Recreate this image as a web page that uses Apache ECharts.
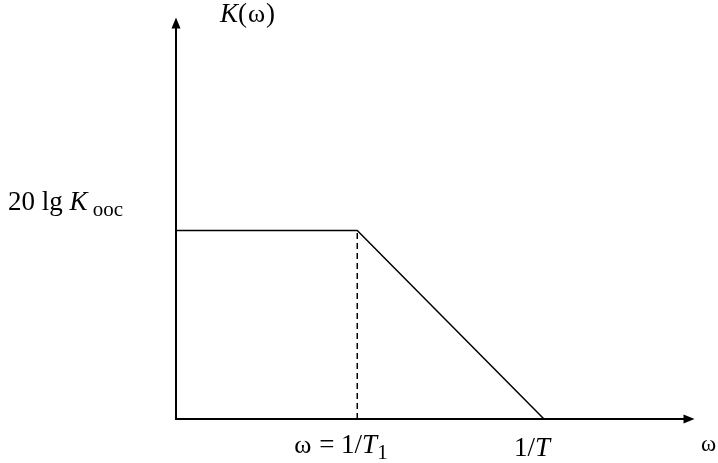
<!DOCTYPE html>
<html>
<head>
<meta charset="utf-8">
<script src="https://cdn.jsdelivr.net/npm/echarts@6/dist/echarts.min.js"></script>
<style>
  html, body { margin: 0; padding: 0; background: #fff; }
  #main { width: 718px; height: 463px; }
</style>
</head>
<body>
<div id="main"></div>
<script>
// Asymptotic amplitude response: flat at 20 lg K_ooc up to ω = 1/T1,
// then a straight fall that reaches the ω axis at 1/T.
const omegaBreaks = [0, 1, 2.03];   // ω: origin, 1/T1, 1/T (in units of 1/T1)
const gainLevels  = [1, 1, 0];      // K(ω) in units of 20 lg K_ooc
const guideOmega  = [1, 1];         // dashed drop from the corner to the ω axis
const guideGain   = [0, 1];
const omegaMax = 2.83;
const gainMax  = 2.1;

// Texts
const yAxisTitle = ['K', '(', 'ω', ')'];
const xAxisTitle = 'ω';
const levelLabel = ['20 lg ', 'K', 'ooc'];
const cornerLabel = ['ω', ' = 1/', 'T', '1'];
const endLabel = ['1/', 'T'];

const FONT = '"Liberation Serif", "Times New Roman", serif';
const chart = echarts.init(document.getElementById('main'), null, { renderer: 'canvas' });

const axisCommon = {
  type: 'value',
  min: 0,
  axisLine: {
    show: true,
    symbol: ['none', 'triangle'],
    symbolSize: [9, 11],
    lineStyle: { color: '#000', width: 2 }
  },
  axisTick: { show: false },
  axisLabel: { show: false },
  splitLine: { show: false }
};

chart.setOption({
  backgroundColor: '#fff',
  animation: false,
  grid: { left: 176, right: 29, top: 23, bottom: 44 },
  xAxis: Object.assign({}, axisCommon, { max: omegaMax }),
  yAxis: Object.assign({}, axisCommon, { max: gainMax }),
  series: [
    {
      type: 'line',
      data: omegaBreaks.map((w, i) => [w, gainLevels[i]]),
      symbol: 'none',
      lineStyle: { color: '#000', width: 1.5 },
      z: 3
    },
    {
      type: 'line',
      data: guideOmega.map((w, i) => [w, guideGain[i]]),
      symbol: 'none',
      lineStyle: { color: '#000', width: 1.5, type: [6, 4] },
      z: 2
    }
  ]
});

// Rich text styles: upright, italic, Greek and subscript pieces
const base = { fontFamily: FONT, color: '#000', verticalAlign: 'bottom' };
const rich = {
  n: Object.assign({}, base, { fontSize: 27, padding: [0, 0, 5, 0] }),
  i: Object.assign({}, base, { fontSize: 27, fontStyle: 'italic', padding: [0, 0, 5, 0] }),
  g: Object.assign({}, base, { fontSize: 26, padding: [0, 1, 5, 1] }),
  a: Object.assign({}, base, { fontSize: 23, padding: [0, 0, 5, 0] }),
  s: Object.assign({}, base, { fontSize: 21, padding: [0, 0, 0, 0] })
};

function px(w, g) { return chart.convertToPixel({ gridIndex: 0 }, [w, g]); }
function label(text, x, y, align) {
  return {
    type: 'text',
    x: x, y: y,
    style: { text: text, rich: rich, align: align || 'left', verticalAlign: 'bottom' },
    z: 10
  };
}

const origin = px(0, 0);
const corner = px(omegaBreaks[1], gainLevels[1]);
const end = px(omegaBreaks[2], 0);
const axisEnd = px(omegaMax, gainMax);

chart.setOption({
  graphic: [
    label('{i|' + yAxisTitle[0] + '}{n|' + yAxisTitle[1] + '}{g|' + yAxisTitle[2] + '}{n|' + yAxisTitle[3] + '}',
      origin[0] + 44, axisEnd[1] + 10),
    label('{n|' + levelLabel[0] + '}{i|' + levelLabel[1] + '}{s| ' + levelLabel[2] + '}',
      origin[0] - 53, corner[1] - 9, 'right'),
    label('{g|' + cornerLabel[0] + '}{n|' + cornerLabel[1] + '}{i|' + cornerLabel[2] + '}{s|' + cornerLabel[3] + '}',
      corner[0] - 64, origin[1] + 45),
    label('{n|' + endLabel[0] + '}{i|' + endLabel[1] + '}', end[0] - 30, origin[1] + 48),
    label('{a|' + xAxisTitle + '}', axisEnd[0] + 12, origin[1] + 42)
  ]
});
</script>
</body>
</html>
